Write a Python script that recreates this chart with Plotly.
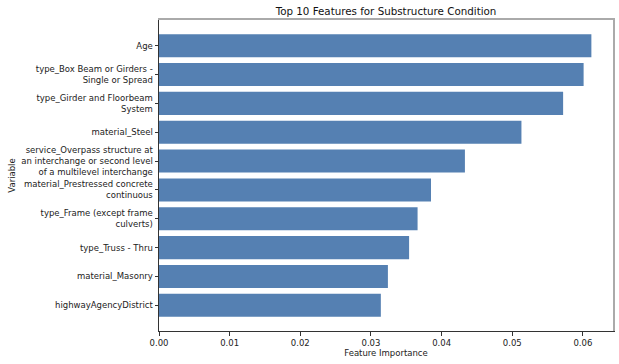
import plotly.graph_objects as go

features = [
    "Age",
    "type_Box Beam or Girders -<br>Single or Spread",
    "type_Girder and Floorbeam<br>System",
    "material_Steel",
    "service_Overpass structure at<br>an interchange or second level<br>of a multilevel interchange",
    "material_Prestressed concrete<br>continuous",
    "type_Frame (except frame<br>culverts)",
    "type_Truss - Thru",
    "material_Masonry",
    "highwayAgencyDistrict",
]
importance = [0.0612, 0.0601, 0.0572, 0.0513, 0.0433, 0.0385, 0.0366, 0.0354, 0.0324, 0.0314]
xticks = [0.00, 0.01, 0.02, 0.03, 0.04, 0.05, 0.06]

FONT = "DejaVu Sans"
FS = 8.5
xr = [0, max(importance) * 1.05]
yr = [len(features) - 1 + 0.89, -0.89]

fig = go.Figure()
fig.add_trace(go.Bar(
    x=importance, y=list(range(len(features))), orientation="h",
    width=0.8, marker=dict(color="#5580b2", line=dict(width=0)),
))
# empty trace so the light-grey top/right frame axes get drawn
fig.add_trace(go.Scatter(x=[None], y=[None], xaxis="x2", yaxis="y2",
                         mode="markers", hoverinfo="skip", showlegend=False))

fig.update_layout(
    width=619, height=364,
    margin=dict(l=159, r=6, t=20, b=33, autoexpand=False),
    plot_bgcolor="white", paper_bgcolor="white",
    font=dict(family=FONT, size=FS, color="#222"),
    title=dict(text="Top 10 Features for Substructure Condition", x=(159 + 613) / 2 / 619,
               xanchor="center", y=1 - 11 / 364, yanchor="middle",
               font=dict(size=10.3, color="#111")),
    showlegend=False,
    xaxis=dict(
        automargin=False, range=xr, tickvals=xticks,
        ticktext=[f"{v:.2f}" for v in xticks],
        showgrid=False, zeroline=False, showline=True, linecolor="#333", linewidth=1,
        ticks="outside", ticklen=3.5, tickcolor="#333",
        title=dict(text="Feature Importance", standoff=3, font=dict(size=FS)),
    ),
    yaxis=dict(
        automargin=False, range=yr,
        tickvals=list(range(len(features))), ticktext=features,
        showgrid=False, zeroline=False, showline=True, linecolor="#333", linewidth=1,
        ticks="outside", ticklen=3.5, tickcolor="#333",
        title=dict(text="Variable", standoff=4, font=dict(size=FS)),
    ),
    xaxis2=dict(overlaying="x", side="top", anchor="y2", range=xr, showline=True,
                linecolor="#aaaaaa", linewidth=1.5, showticklabels=False, ticks="",
                showgrid=False, zeroline=False, automargin=False),
    yaxis2=dict(overlaying="y", side="right", anchor="x2", range=yr, showline=True,
                linecolor="#aaaaaa", linewidth=1.5, showticklabels=False, ticks="",
                showgrid=False, zeroline=False, automargin=False),
)
fig.write_html("out.html", config={"displayModeBar": False},
               post_script="document.body.style.margin='0';")
